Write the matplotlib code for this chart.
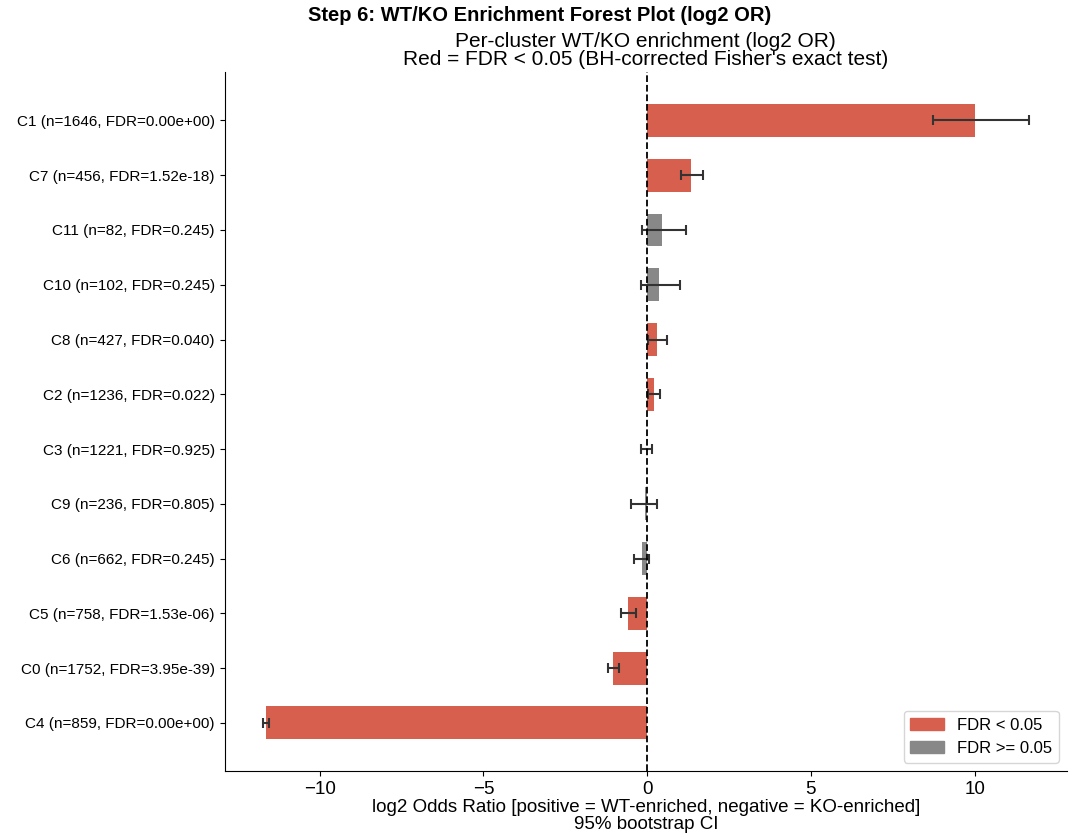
import matplotlib
matplotlib.use("Agg")
import matplotlib.pyplot as plt
from matplotlib.patches import Patch

plt.rcParams['font.family'] = ['Liberation Sans', 'DejaVu Sans']

# bottom to top
labels = ["C4 (n=859, FDR=0.00e+00)", "C0 (n=1752, FDR=3.95e-39)",
          "C5 (n=758, FDR=1.53e-06)", "C6 (n=662, FDR=0.245)",
          "C9 (n=236, FDR=0.805)", "C3 (n=1221, FDR=0.925)",
          "C2 (n=1236, FDR=0.022)", "C8 (n=427, FDR=0.040)",
          "C10 (n=102, FDR=0.245)", "C11 (n=82, FDR=0.245)",
          "C7 (n=456, FDR=1.52e-18)", "C1 (n=1646, FDR=0.00e+00)"]
log2_or = [-11.65, -1.04, -0.58, -0.17, -0.07, 0.01, 0.21, 0.30, 0.37, 0.45, 1.34, 10.01]
ci_low = [-11.73, -1.19, -0.80, -0.41, -0.48, -0.18, 0.02, 0.02, -0.19, -0.15, 1.04, 8.74]
ci_high = [-11.55, -0.86, -0.34, 0.07, 0.30, 0.15, 0.40, 0.61, 1.00, 1.19, 1.71, 11.65]
signif = [True, True, True, False, False, False, True, True, False, False, True, True]

red = "#d6604d"
grey = "#888888"
colors = [red if s else grey for s in signif]

fig = plt.figure(figsize=(10.8, 8.4), dpi=100)
ax = fig.add_axes([0.208, 0.082, 0.78, 0.832])

y = list(range(len(labels)))
ax.barh(y, log2_or, height=0.6, color=colors)
xerr = [[m - lo for m, lo in zip(log2_or, ci_low)],
        [hi - m for m, hi in zip(log2_or, ci_high)]]
ax.errorbar(log2_or, y, xerr=xerr, fmt="none", ecolor="#333333",
            elinewidth=1.5, capsize=3.5, capthick=1.5)
ax.axvline(0, color="black", linestyle="--", linewidth=1.3)

ax.set_yticks(y)
ax.set_yticklabels(labels, fontsize=11)
ax.tick_params(axis="x", labelsize=13.5)
ax.set_xlabel("log2 Odds Ratio [positive = WT-enriched, negative = KO-enriched]\n95% bootstrap CI",
              fontsize=13.5, labelpad=1, linespacing=0.95)
ax.set_title("Per-cluster WT/KO enrichment (log2 OR)\nRed = FDR < 0.05 (BH-corrected Fisher's exact test)",
             fontsize=15, linespacing=0.95, pad=5)
fig.suptitle("Step 6: WT/KO Enrichment Forest Plot (log2 OR)", fontsize=14.5,
             fontweight="bold", y=0.993)
ax.spines["top"].set_visible(False)
ax.spines["right"].set_visible(False)

handles = [Patch(color=red, label="FDR < 0.05"), Patch(color=grey, label="FDR >= 0.05")]
ax.legend(handles=handles, loc="lower right", fontsize=12)

fig.savefig("out.png", dpi=100)
